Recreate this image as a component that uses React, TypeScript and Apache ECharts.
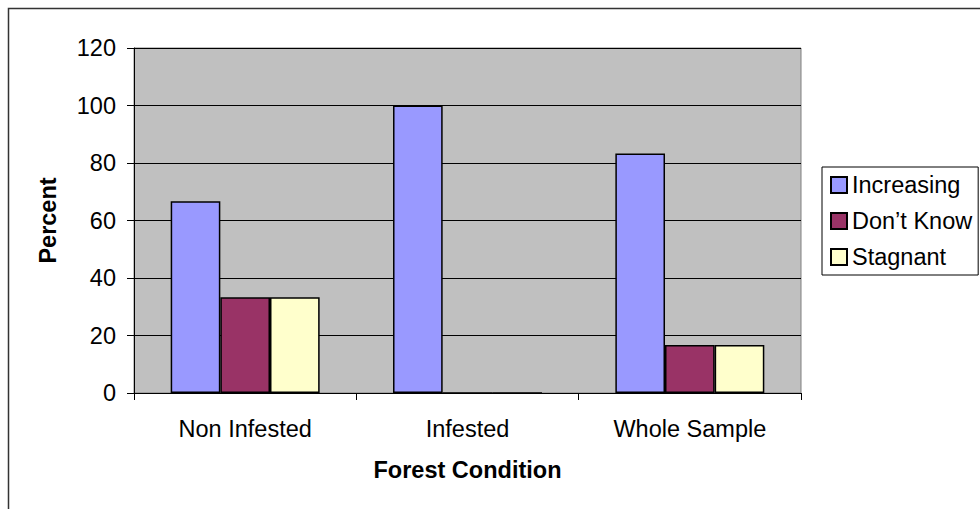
import React, { useEffect, useRef } from "react";
import * as echarts from "echarts";

const categories = ["Non Infested", "Infested", "Whole Sample"];
const increasing = [66.7, 100, 83.3];
const dontKnow = [33.3, 0, 16.7];
const stagnant = [33.3, 0, 16.7];
const seriesNames = ["Increasing", "Don\u2019t Know", "Stagnant"];
const yTicks = { min: 0, max: 120, interval: 20 };

const FONT = "'Liberation Sans', Arial, sans-serif";
const FS = 23.5;

export default function App() {
  const ref = useRef<HTMLDivElement>(null);
  useEffect(() => {
    if (!ref.current) return;
    const chart = echarts.init(ref.current, undefined, { renderer: "svg" });
    const barStyle = (color: string) => ({
      color,
      borderColor: "#000",
      borderWidth: 1.5,
    });
    chart.setOption({
      animation: false,
      backgroundColor: "#fff",
      textStyle: { fontFamily: FONT, color: "#000" },
      graphic: [
        {
          type: "rect",
          shape: { x: 8.5, y: 8.5, width: 1200, height: 1200 },
          style: { fill: "none", stroke: "#333", lineWidth: 1.5 },
          silent: true,
        },
      ],
      grid: {
        left: 134,
        right: 179,
        top: 48,
        bottom: 116,
        show: true,
        backgroundColor: "#C0C0C0",
        borderColor: "#808080",
        borderWidth: 1,
      },
      legend: {
        orient: "vertical",
        left: 822,
        top: 167,
        padding: [6, 6, 6, 8],
        itemWidth: 16,
        itemHeight: 16,
        itemGap: 12,
        borderColor: "#000",
        borderWidth: 1,
        backgroundColor: "#fff",
        icon: "rect",
        textStyle: { fontFamily: FONT, fontSize: FS, color: "#000" },
        data: seriesNames,
      },
      xAxis: {
        type: "category",
        data: categories,
        name: "Forest Condition",
        nameLocation: "middle",
        nameGap: 65,
        nameTextStyle: { fontFamily: FONT, fontSize: FS, fontWeight: "bold", color: "#000" },
        axisLine: { show: true, lineStyle: { color: "#000", width: 1 } },
        axisTick: { show: true, length: 7, interval: 0, lineStyle: { color: "#000" } },
        axisLabel: { fontFamily: FONT, fontSize: FS, color: "#000", margin: 24, interval: 0 },
        splitLine: { show: false },
      },
      yAxis: {
        type: "value",
        min: yTicks.min,
        max: yTicks.max,
        interval: yTicks.interval,
        name: "Percent",
        nameLocation: "middle",
        nameGap: 74,
        nameRotate: 90,
        nameTextStyle: { fontFamily: FONT, fontSize: FS, fontWeight: "bold", color: "#000" },
        axisLine: { show: true, lineStyle: { color: "#000", width: 1 } },
        axisTick: { show: true, length: 7, lineStyle: { color: "#000" } },
        axisLabel: { fontFamily: FONT, fontSize: FS, color: "#000", margin: 18 },
        splitLine: { show: true, lineStyle: { color: "#000", width: 1 } },
      },
      series: [
        {
          name: seriesNames[0],
          type: "bar",
          data: increasing,
          barGap: "0%",
          barCategoryGap: "33%",
          itemStyle: barStyle("#9999FF"),
        },
        {
          name: seriesNames[1],
          type: "bar",
          data: dontKnow,
          itemStyle: barStyle("#993366"),
        },
        {
          name: seriesNames[2],
          type: "bar",
          data: stagnant,
          itemStyle: barStyle("#FFFFCC"),
        },
      ],
    });
    return () => chart.dispose();
  }, []);
  return (
    <div
      ref={ref}
      style={{ position: "fixed", left: 0, top: 0, width: 980, height: 509 }}
    />
  );
}
